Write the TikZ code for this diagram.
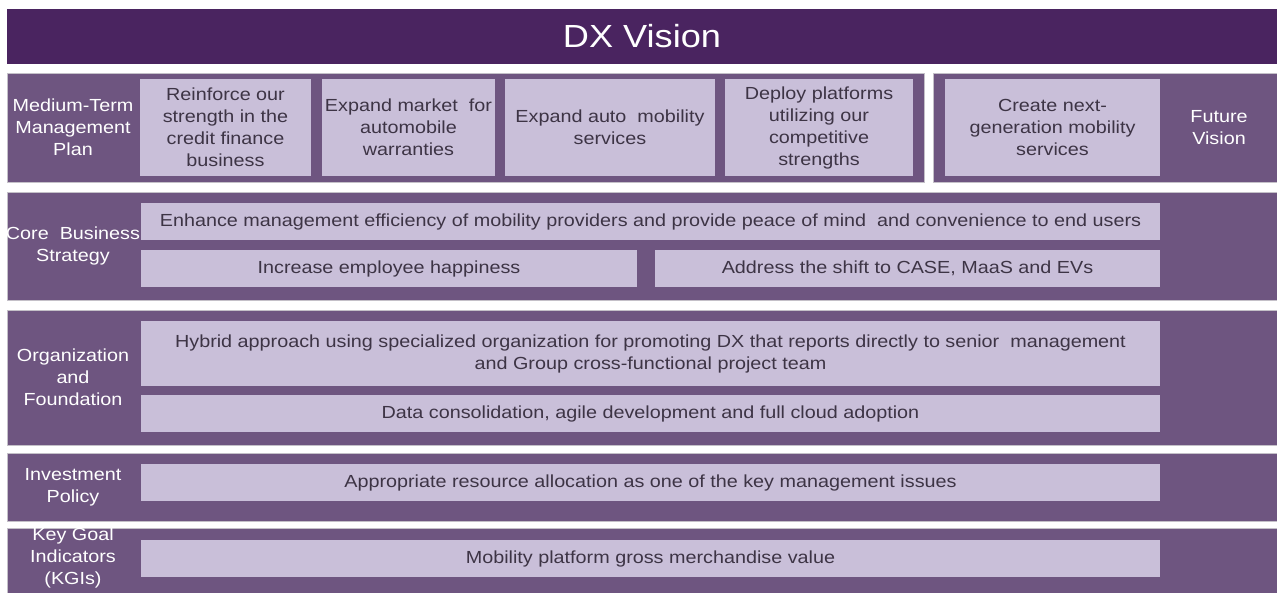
\documentclass[tikz,border=0pt]{standalone}
\usepackage{fontspec}
\setmainfont{Liberation Sans}[FakeStretch=1.13]
\usetikzlibrary{positioning}
\definecolor{dxdark}{HTML}{4A2460}
\definecolor{dxmid}{HTML}{6E5580}
\definecolor{dxlight}{HTML}{C9BFD9}
\definecolor{dxtext}{HTML}{3D3445}
\definecolor{dxline}{HTML}{C4C0C8}
\begin{document}
\begin{tikzpicture}[x=1pt,y=-1pt,
	band/.style={draw=dxline,line width=0.8pt,fill=dxmid,inner sep=0pt},
	cell/.style={fill=dxlight,text=dxtext,align=center,inner sep=0pt,font=\fontsize{17.5}{22}\selectfont},
	lbl/.style={text=white,align=center,inner sep=0pt,font=\fontsize{17.5}{22}\selectfont}]
		\useasboundingbox (0,0) rectangle (1277,593);
		\node (title) [fill=dxdark,text=white,minimum width=1270pt,minimum height=55pt,font=\fontsize{32}{36}\selectfont] at (642,36.5) {DX Vision};
		\node (planband) [band,minimum width=917pt,minimum height=109pt] at (465.5,127.5) {};
		\node (futband) [band,minimum width=344pt,minimum height=109pt] at (1105,127.5) {};
		\node (coreband) [band,minimum width=1270pt,minimum height=108pt] at (642,246) {};
		\node (orgband) [band,minimum width=1270pt,minimum height=135pt] at (642,377.5) {};
		\node (invband) [band,minimum width=1270pt,minimum height=68pt] at (642,487) {};
		\node (kgiband) [band,minimum width=1270pt,minimum height=68pt] at (642,562) {};
		\node (plan) [lbl] at (73,127.5) {Medium-Term\\Management\\Plan};
		\node (fut) [lbl] at (1219,127.5) {Future\\Vision};
		\node (core) [lbl] at (73,246) {Core~ Business\\Strategy};
		\node (org) [lbl] at (73,377.5) {Organization\\and\\Foundation};
		\node (inv) [lbl] at (73,487) {Investment\\Policy};
		\node (kgi) [lbl] at (73,558) {Key Goal\\Indicators\\(KGIs)};
		\node (plana) [cell,minimum width=171pt,minimum height=97pt] at (225.5,127.5) {Reinforce our\\strength in the\\credit finance\\business};
		\node (planb) [cell,minimum width=173pt,minimum height=97pt] at (408.5,127.5) {Expand market~ for\\automobile\\warranties};
		\node (planc) [cell,minimum width=210pt,minimum height=97pt] at (610,127.5) {Expand auto~ mobility\\services};
		\node (pland) [cell,minimum width=188pt,minimum height=97pt] at (819,127.5) {Deploy platforms\\utilizing our\\competitive\\strengths};
		\node (futa) [cell,minimum width=215pt,minimum height=97pt] at (1052.5,127.5) {Create next-\\generation mobility\\services};
		\node (corea) [cell,minimum width=1019pt,minimum height=37pt] at (650.5,221.5) {Enhance management efficiency of mobility providers and provide peace of mind~ and convenience to end users};
		\node (coreb) [cell,minimum width=496pt,minimum height=37pt] at (389,268.5) {Increase employee happiness};
		\node (corec) [cell,minimum width=505pt,minimum height=37pt] at (907.5,268.5) {Address the shift to CASE, MaaS and EVs};
		\node (orga) [cell,minimum width=1019pt,minimum height=65pt] at (650.5,353.5) {Hybrid approach using specialized organization for promoting DX that reports directly to senior~ management\\and Group cross-functional project team};
		\node (orgb) [cell,minimum width=1019pt,minimum height=37pt] at (650.5,413.5) {Data consolidation, agile development and full cloud adoption};
		\node (inva) [cell,minimum width=1019pt,minimum height=37pt] at (650.5,482.5) {Appropriate resource allocation as one of the key management issues};
		\node (kgia) [cell,minimum width=1019pt,minimum height=37pt] at (650.5,558.5) {Mobility platform gross merchandise value};
\end{tikzpicture}
\end{document}
